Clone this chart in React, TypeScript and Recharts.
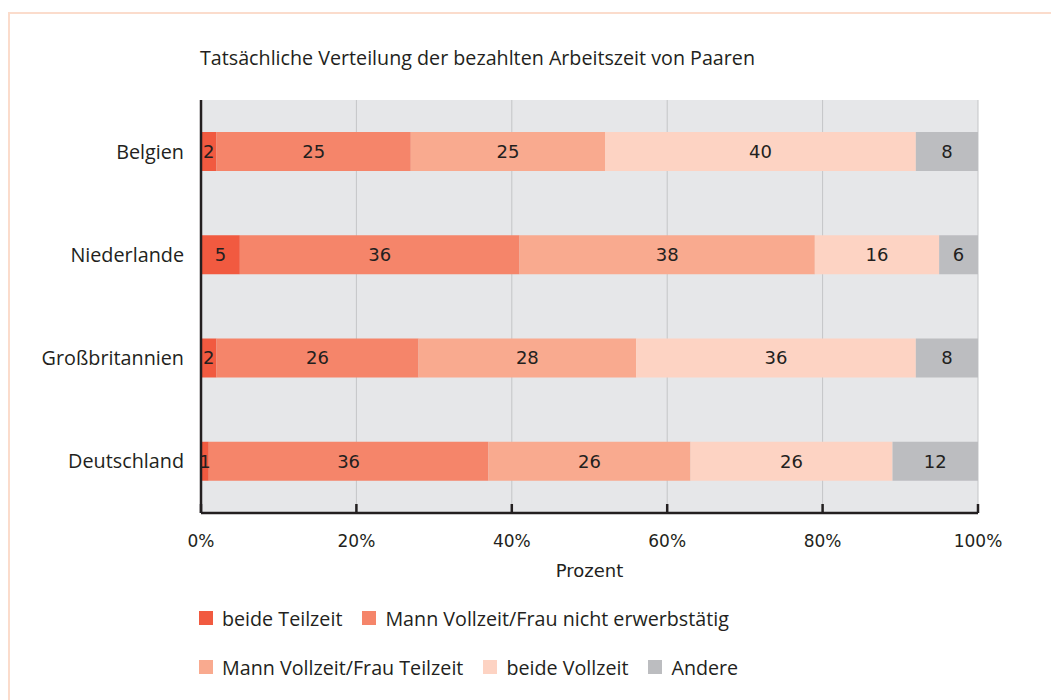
import React from 'react';
import { BarChart, Bar, XAxis, YAxis, CartesianGrid, LabelList } from 'recharts';

const categories = ['Belgien', 'Niederlande', 'Großbritannien', 'Deutschland'];
const beideTeilzeit = [2, 5, 2, 1];
const mannVollFrauNicht = [25, 36, 26, 36];
const mannVollFrauTeil = [25, 38, 28, 26];
const beideVollzeit = [40, 16, 36, 26];
const andere = [8, 6, 8, 12];
const xTicks = [0, 20, 40, 60, 80, 100];

const series = [
  { key: 'bt', name: 'beide Teilzeit', color: '#f15a40', values: beideTeilzeit },
  { key: 'mvfn', name: 'Mann Vollzeit/Frau nicht erwerbstätig', color: '#f5856a', values: mannVollFrauNicht },
  { key: 'mvft', name: 'Mann Vollzeit/Frau Teilzeit', color: '#f9aa8f', values: mannVollFrauTeil },
  { key: 'bv', name: 'beide Vollzeit', color: '#fdd3c3', values: beideVollzeit },
  { key: 'and', name: 'Andere', color: '#bcbdc0', values: andere },
];

const data = categories.map((land, i) => {
  const row: Record<string, string | number> = { land };
  series.forEach((s) => (row[s.key] = s.values[i]));
  return row;
});

const legendRows = [series.slice(0, 2), series.slice(2)];

const TEXT = '#231f20';
const SANS = '"Open Sans", sans-serif';
const DEJAVU = '"DejaVu Sans", sans-serif';

export default function App() {
  return (
    <div style={{ position: 'absolute', left: 0, top: 0, width: 1051, height: 700, background: '#fff', overflow: 'hidden' }}>
      <div
        style={{
          position: 'absolute',
          left: 8,
          top: 12,
          width: 1100,
          height: 720,
          borderTop: '2px solid #fbdccc',
          borderLeft: '2px solid #fbdccc',
        }}
      />
      <div
        style={{
          position: 'absolute',
          left: 200,
          top: 45,
          fontFamily: SANS,
          fontSize: 19.7,
          color: TEXT,
          whiteSpace: 'nowrap',
          lineHeight: '26px',
        }}
      >
        Tatsächliche Verteilung der bezahlten Arbeitszeit von Paaren
      </div>
      <div style={{ position: 'absolute', left: 0, top: 0 }}>
        <BarChart
          width={1051}
          height={600}
          data={data}
          layout="vertical"
          margin={{ top: 100, right: 73, bottom: 23, left: 11 }}
        >
          <CartesianGrid fill="#e6e7e9" fillOpacity={1} horizontal={false} stroke="#c4c5c7" strokeWidth={1} />
          <XAxis
            type="number"
            domain={[0, 100]}
            ticks={xTicks}
            allowDataOverflow
            tickFormatter={(v: number) => `${v}%`}
            axisLine={{ stroke: TEXT, strokeWidth: 2.5 }}
            tickLine={{ stroke: TEXT, strokeWidth: 2.5 }}
            tickSize={-9}
            tickMargin={31}
            height={64}
            tick={{ fill: TEXT, fontSize: 17, fontFamily: DEJAVU }}
            label={{ value: 'Prozent', position: 'insideBottom', offset: 0, fill: TEXT, fontSize: 18, fontFamily: DEJAVU }}
          />
          <YAxis
            type="category"
            dataKey="land"
            width={190}
            axisLine={{ stroke: TEXT, strokeWidth: 2.5 }}
            tickLine={false}
            tickSize={0}
            tickMargin={17}
            tick={{ fill: TEXT, fontSize: 19.8, fontFamily: SANS }}
          />
          {series.map((s) => (
            <Bar key={s.key} dataKey={s.key} name={s.name} stackId="a" fill={s.color} barSize={39} isAnimationActive={false}>
              <LabelList dataKey={s.key} position="center" fill={TEXT} fontSize={18} fontFamily={DEJAVU} />
            </Bar>
          ))}
        </BarChart>
      </div>
      {legendRows.map((row, ri) => (
        <div
          key={ri}
          style={{
            position: 'absolute',
            left: 199,
            top: ri === 0 ? 605 : 654,
            display: 'flex',
            alignItems: 'center',
            height: 26,
            fontFamily: SANS,
            fontSize: 19.7,
            color: TEXT,
            whiteSpace: 'nowrap',
          }}
        >
          {row.map((s) => (
            <div key={s.key} style={{ display: 'flex', alignItems: 'center', marginRight: 20 }}>
              <span style={{ display: 'inline-block', width: 14, height: 14, background: s.color, marginRight: 9 }} />
              <span>{s.name}</span>
            </div>
          ))}
        </div>
      ))}
    </div>
  );
}
